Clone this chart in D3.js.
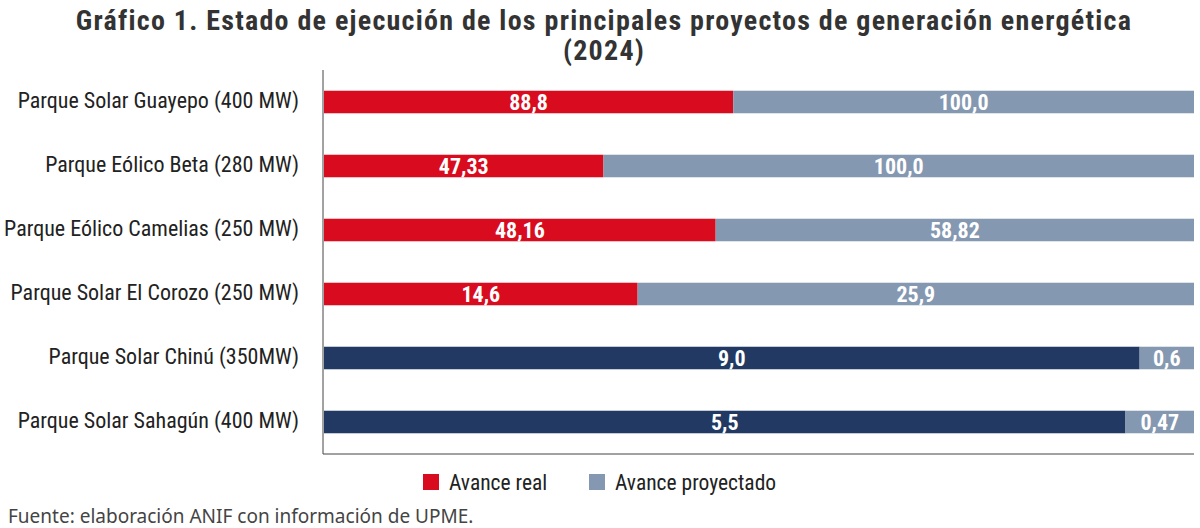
<!DOCTYPE html>
<html>
<head>
<meta charset="utf-8">
<script src="https://cdn.jsdelivr.net/npm/d3@7"></script>
<style>
    body { margin: 0; background: #fff; }
    svg { display: block; }
    .cond { font-family: "Liberation Sans Narrow", "Roboto Condensed", "DejaVu Sans Condensed", sans-serif; }
</style>
</head>
<body>
<div id="chart"></div>
<script>
// data
var categories = [
    "Parque Solar Guayepo (400 MW)",
    "Parque Eólico Beta (280 MW)",
    "Parque Eólico Camelias (250 MW)",
    "Parque Solar El Corozo (250 MW)",
    "Parque Solar Chinú (350MW)",
    "Parque Solar Sahagún (400 MW)"
];
var avanceReal = [88.8, 47.33, 48.16, 14.6, 9.0, 5.5];
var avanceProyectado = [100.0, 100.0, 58.82, 25.9, 0.6, 0.47];
var realLabels = ["88,8", "47,33", "48,16", "14,6", "9,0", "5,5"];
var proyLabels = ["100,0", "100,0", "58,82", "25,9", "0,6", "0,47"];
// the last two bars are drawn in navy instead of red
var realColors = ["#D80C1E", "#D80C1E", "#D80C1E", "#D80C1E", "#213963", "#213963"];

var width = 1200, height = 528;
var plotLeft = 323, plotRight = 1194, plotTop = 70, plotBottom = 454;
var grey = "#8598B1";

var svg = d3.select("#chart").append("svg")
    .attr("width", width)
    .attr("height", height);

// title
function title(txt, yPos) {
    svg.append("text")
        .attr("class", "cond")
        .attr("x", 604).attr("y", yPos)
        .attr("text-anchor", "middle")
        .style("font-size", "28px").style("font-weight", "bold").style("fill", "#333")
        .style("letter-spacing", "1.25px")
        .text(txt);
}
title("Gráfico 1. Estado de ejecución de los principales proyectos de generación energética", 30);
title("(2024)", 60);

var rows = categories.map(function (c, i) {
    var total = avanceReal[i] + avanceProyectado[i];
    return {
        name: c,
        real: avanceReal[i] / total,
        proy: avanceProyectado[i] / total,
        realLabel: realLabels[i],
        proyLabel: proyLabels[i],
        color: realColors[i]
    };
});

var x = d3.scaleLinear().domain([0, 1]).range([plotLeft + 1, plotRight]);
var y = d3.scaleBand()
    .domain(categories)
    .range([plotTop, plotBottom])
    .paddingInner(0.648)
    .paddingOuter(0.324);

var rowG = svg.append("g").selectAll(".row")
    .data(rows)
    .join("g")
    .attr("class", "row");

// real segment
rowG.append("rect")
    .attr("x", x(0))
    .attr("y", function (d) { return y(d.name); })
    .attr("width", function (d) { return x(d.real) - x(0); })
    .attr("height", y.bandwidth())
    .style("fill", function (d) { return d.color; });

// projected segment
rowG.append("rect")
    .attr("x", function (d) { return x(d.real); })
    .attr("y", function (d) { return y(d.name); })
    .attr("width", function (d) { return x(d.real + d.proy) - x(d.real); })
    .attr("height", y.bandwidth())
    .style("fill", grey);

// value labels
function valueLabel(cx, txt) {
    rowG.append("text")
        .attr("class", "cond")
        .attr("x", cx)
        .attr("y", function (d) { return y(d.name) + y.bandwidth() / 2; })
        .attr("dy", "0.36em")
        .attr("text-anchor", "middle")
        .style("font-size", "22px").style("font-weight", "bold").style("fill", "#fff")
        .text(txt);
}
valueLabel(function (d) { return (x(0) + x(d.real)) / 2; }, function (d) { return d.realLabel; });
valueLabel(function (d) { return (x(d.real) + x(d.real + d.proy)) / 2; }, function (d) { return d.proyLabel; });

// category axis
var yAxis = d3.axisLeft(y).tickSize(0).tickPadding(24);
var ax = svg.append("g")
    .attr("transform", "translate(" + plotLeft + ",-1)")
    .call(yAxis);
ax.select(".domain").remove();
ax.attr("font-family", null).attr("font-size", null);
ax.selectAll("text")
    .attr("class", "cond")
    .style("font-size", "22px").style("fill", "#222");

// axis lines
svg.append("line")
    .attr("x1", plotLeft).attr("x2", plotLeft)
    .attr("y1", plotTop).attr("y2", plotBottom)
    .style("stroke", "#444").style("stroke-width", 1);
svg.append("line")
    .attr("x1", plotLeft).attr("x2", plotRight)
    .attr("y1", plotBottom).attr("y2", plotBottom)
    .style("stroke", "#444").style("stroke-width", 1);

// legend
var legend = [
    { label: "Avance real", color: "#D80C1E", x: 423 },
    { label: "Avance proyectado", color: grey, x: 589 }
];
var lg = svg.selectAll(".legend")
    .data(legend)
    .join("g")
    .attr("class", "legend")
    .attr("transform", function (d) { return "translate(" + d.x + ",474)"; });
lg.append("rect")
    .attr("width", 16).attr("height", 16)
    .style("fill", function (d) { return d.color; });
lg.append("text")
    .attr("class", "cond")
    .attr("x", 26).attr("y", 8)
    .attr("dy", "0.36em")
    .style("font-size", "21.5px").style("fill", "#222")
    .text(function (d) { return d.label; });

// source
svg.append("text")
    .attr("x", 8).attr("y", 523)
    .style("font-family", "'Noto Sans', 'Open Sans', sans-serif")
    .style("font-size", "19px").style("fill", "#444")
    .text("Fuente: elaboración ANIF con información de UPME.");
</script>
</body>
</html>
